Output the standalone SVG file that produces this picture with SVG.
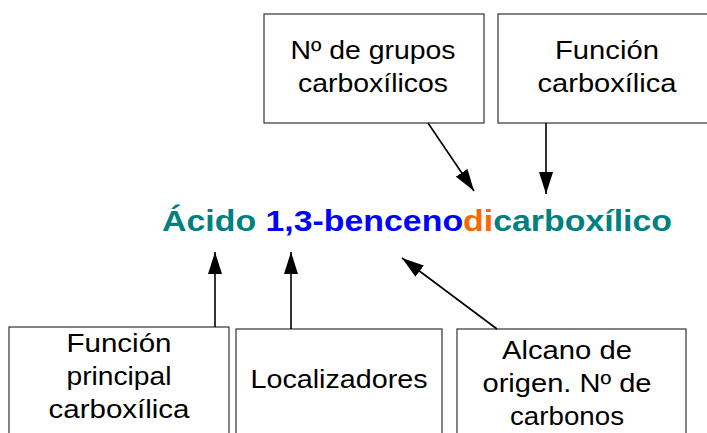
<svg xmlns="http://www.w3.org/2000/svg" width="707" height="433" viewBox="0 0 707 433">
<style>
.box{fill:#fff;stroke:#333;stroke-width:1.2}
.lbl{font-family:"Liberation Sans",Arial,sans-serif;font-size:25px;fill:#000;text-anchor:middle}
.title{font-family:"Liberation Sans",Arial,sans-serif;font-size:30px;font-weight:bold}
.conn{stroke:#000;stroke-width:1.6;fill:none;marker-end:url(#ah)}
</style>
<defs>
<marker id="ah" markerUnits="userSpaceOnUse" viewBox="0 0 22 14" refX="22" refY="7" markerWidth="22" markerHeight="14" orient="auto">
<path d="M0,0 L22,7 L0,14 z" fill="#000"/>
</marker>
</defs>
<rect width="707" height="433" fill="#fff"/>
<g id="node-grupos">
<rect class="box" x="264" y="14" width="220" height="109"/>
<text class="lbl" x="373" y="59" textLength="165" lengthAdjust="spacingAndGlyphs">Nº de grupos</text>
<text class="lbl" x="373" y="92" textLength="150" lengthAdjust="spacingAndGlyphs">carboxílicos</text>
</g>
<g id="node-funcion">
<rect class="box" x="498" y="14" width="230" height="109"/>
<text class="lbl" x="607" y="59" textLength="104" lengthAdjust="spacingAndGlyphs">Función</text>
<text class="lbl" x="607" y="92" textLength="139" lengthAdjust="spacingAndGlyphs">carboxílica</text>
</g>
<g id="node-principal">
<rect class="box" x="9" y="327" width="220" height="120"/>
<text class="lbl" x="119" y="352" textLength="105" lengthAdjust="spacingAndGlyphs">Función</text>
<text class="lbl" x="119" y="385" textLength="105" lengthAdjust="spacingAndGlyphs">principal</text>
<text class="lbl" x="119" y="418" textLength="141" lengthAdjust="spacingAndGlyphs">carboxílica</text>
</g>
<g id="node-localizadores">
<rect class="box" x="236" y="329" width="206" height="120"/>
<text class="lbl" x="339" y="388" textLength="177" lengthAdjust="spacingAndGlyphs">Localizadores</text>
</g>
<g id="node-alcano">
<rect class="box" x="457" y="329" width="229" height="120"/>
<text class="lbl" x="567" y="359" textLength="130" lengthAdjust="spacingAndGlyphs">Alcano de</text>
<text class="lbl" x="567" y="392" textLength="169" lengthAdjust="spacingAndGlyphs">origen. Nº de</text>
<text class="lbl" x="567" y="425" textLength="114" lengthAdjust="spacingAndGlyphs">carbonos</text>
</g>
<g id="node-title">
<text class="title" x="162" y="231" textLength="510" lengthAdjust="spacingAndGlyphs"><tspan fill="#008080">Ácido </tspan><tspan fill="#0000FF">1,3-benceno</tspan><tspan fill="#FF6600">di</tspan><tspan fill="#008080">carboxílico</tspan></text>
</g>
<g id="connectors">
<line class="conn" x1="428" y1="123" x2="474" y2="191"/>
<line class="conn" x1="546" y1="123" x2="546" y2="194"/>
<line class="conn" x1="215" y1="327" x2="215" y2="252"/>
<line class="conn" x1="291" y1="329" x2="291" y2="252"/>
<line class="conn" x1="497" y1="329" x2="402" y2="258"/>
</g>
</svg>
